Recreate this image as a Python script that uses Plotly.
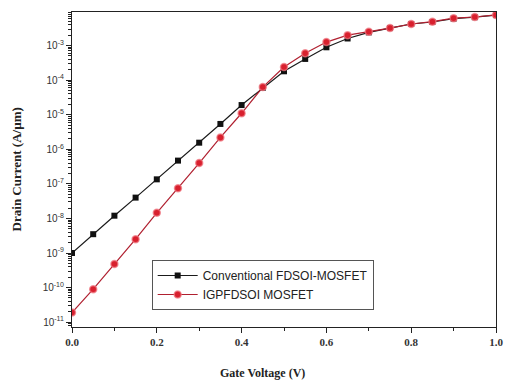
import plotly.graph_objects as go

gate_voltage = [0.0, 0.05, 0.10, 0.15, 0.20, 0.25, 0.30, 0.35, 0.40, 0.45, 0.50,
                0.55, 0.60, 0.65, 0.70, 0.75, 0.80, 0.85, 0.90, 0.95, 1.00]
conventional = [1.0e-9, 3.5e-9, 1.2e-8, 4.0e-8, 1.35e-7, 4.7e-7, 1.55e-6, 5.4e-6,
                1.9e-5, 6.0e-5, 1.8e-4, 4.1e-4, 8.9e-4, 1.6e-3, 2.4e-3, 3.2e-3,
                4.2e-3, 4.8e-3, 6.0e-3, 6.6e-3, 7.6e-3]
igpfdsoi = [1.9e-11, 9.0e-11, 4.8e-10, 2.5e-9, 1.45e-8, 7.5e-8, 4.0e-7, 2.2e-6,
            1.1e-5, 6.3e-5, 2.4e-4, 6.0e-4, 1.26e-3, 2.0e-3, 2.5e-3, 3.2e-3,
            4.2e-3, 4.9e-3, 6.2e-3, 6.7e-3, 7.7e-3]

y_tickvals = [1e-3, 1e-4, 1e-5, 1e-6, 1e-7, 1e-8, 1e-9, 1e-10, 1e-11]
y_ticktext = ["10<sup>-3</sup>", "10<sup>-4</sup>", "10<sup>-5</sup>", "10<sup>-6</sup>",
              "10<sup>-7</sup>", "10<sup>-8</sup>", "10<sup>-9</sup>", "10<sup>-10</sup>",
              "10<sup>-11</sup>"]
x_tickvals = [0.0, 0.2, 0.4, 0.6, 0.8, 1.0]
x_ticktext = ["<b>0.0</b>", "<b>0.2</b>", "<b>0.4</b>", "<b>0.6</b>", "<b>0.8</b>", "<b>1.0</b>"]

fig = go.Figure()
fig.add_trace(go.Scatter(
    x=gate_voltage, y=conventional, mode="lines+markers",
    name="Conventional FDSOI-MOSFET",
    line=dict(color="#1a1a1a", width=1.2),
    marker=dict(symbol="square", size=6, color="#111111"),
))
fig.add_trace(go.Scatter(
    x=gate_voltage, y=igpfdsoi, mode="lines+markers",
    name="IGPFDSOI MOSFET",
    line=dict(color="#b02030", width=1.2),
    marker=dict(symbol="circle", size=7, color="#d8202e",
                line=dict(color="rgba(240,120,130,0.7)", width=1.5)),
))

fig.update_layout(
    width=512, height=383,
    margin=dict(l=72, r=9, t=12, b=56),
    paper_bgcolor="white", plot_bgcolor="white",
    font=dict(family="Liberation Sans, Arial", size=10, color="#222"),
    showlegend=True,
    legend=dict(
        x=(153 - 72) / 431, y=(327 - 260) / 315, xanchor="left", yanchor="top",
        bgcolor="white", bordercolor="#555", borderwidth=1,
        font=dict(family="Liberation Sans, Arial", size=12, color="#222"),
        tracegroupgap=0, itemwidth=40,
    ),
    annotations=[
        dict(text="<b>Gate Voltage (V)</b>", x=0.45, y=-0.146, xref="paper", yref="paper",
             xanchor="center", yanchor="middle", showarrow=False,
             font=dict(family="Liberation Serif, Times New Roman", size=12, color="#222")),
        dict(text="<b>Drain Current (A/µm)</b>", x=-0.13, y=0.5, xref="paper", yref="paper",
             xanchor="center", yanchor="middle", showarrow=False, textangle=-90,
             font=dict(family="Liberation Serif, Times New Roman", size=13, color="#222")),
    ],
)

fig.update_xaxes(
    range=[0, 1.0], tickvals=x_tickvals, ticktext=x_ticktext,
    ticks="outside", ticklen=5, tickwidth=1, tickcolor="#222",
    showline=True, linecolor="#222", linewidth=1.2, mirror=True,
    showgrid=False, zeroline=False,
    tickfont=dict(family="Liberation Serif, Times New Roman", size=11, color="#333"),
    minor=dict(ticks="outside", ticklen=3, tickcolor="#222", dtick=0.1, showgrid=False),
)
fig.update_yaxes(
    type="log", range=[-11.14, -2.03], tickvals=y_tickvals, ticktext=y_ticktext,
    ticks="outside", ticklen=5, tickwidth=1, tickcolor="#222",
    showline=True, linecolor="#222", linewidth=1.2, mirror=True,
    showgrid=False, zeroline=False,
    tickfont=dict(family="Liberation Sans, Arial", size=10, color="#333"),
    minor=dict(ticks="outside", ticklen=3, tickcolor="#222", dtick="D1", showgrid=False),
)

fig.write_html(
    "out.html",
    config={"displayModeBar": False},
    post_script="document.body.style.margin='0';document.body.style.overflow='hidden';",
)
